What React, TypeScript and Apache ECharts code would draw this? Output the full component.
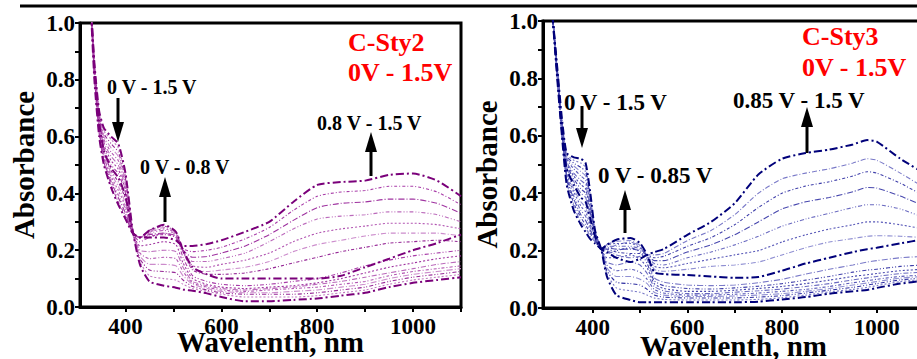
import React, { useEffect, useRef } from "react";
import * as echarts from "echarts";

// ---------- C-Sty2 (left panel) ----------
const WL2 = [325, 335, 345, 355, 370, 385, 400, 415, 430, 450, 480, 505, 520, 540, 570, 600, 650, 700, 750, 800, 850, 900, 950, 1000, 1050, 1100];
const c2_00 = [1.15, 0.86, 0.69, 0.63, 0.6, 0.575, 0.47, 0.27, 0.15, 0.09, 0.075, 0.068, 0.062, 0.057, 0.048, 0.035, 0.02, 0.02, 0.025, 0.03, 0.04, 0.05, 0.07, 0.085, 0.095, 0.105];
const c2_01 = [1.15, 0.86, 0.685, 0.62, 0.59, 0.56, 0.46, 0.268, 0.16, 0.11, 0.1, 0.095, 0.08, 0.065, 0.055, 0.045, 0.035, 0.035, 0.035, 0.04, 0.05, 0.06, 0.08, 0.095, 0.105, 0.115];
const c2_02 = [1.15, 0.855, 0.68, 0.61, 0.575, 0.545, 0.45, 0.267, 0.17, 0.13, 0.125, 0.12, 0.095, 0.072, 0.06, 0.05, 0.045, 0.045, 0.045, 0.05, 0.06, 0.07, 0.09, 0.105, 0.115, 0.125];
const c2_03 = [1.15, 0.855, 0.675, 0.6, 0.56, 0.53, 0.44, 0.266, 0.18, 0.15, 0.15, 0.145, 0.11, 0.08, 0.065, 0.055, 0.05, 0.05, 0.055, 0.06, 0.07, 0.08, 0.1, 0.115, 0.125, 0.135];
const c2_04 = [1.15, 0.85, 0.67, 0.59, 0.545, 0.515, 0.43, 0.265, 0.19, 0.17, 0.175, 0.17, 0.125, 0.085, 0.07, 0.06, 0.055, 0.06, 0.065, 0.07, 0.08, 0.09, 0.11, 0.125, 0.135, 0.145];
const c2_05 = [1.15, 0.85, 0.665, 0.58, 0.53, 0.5, 0.42, 0.264, 0.2, 0.195, 0.2, 0.195, 0.14, 0.09, 0.075, 0.065, 0.06, 0.065, 0.07, 0.08, 0.09, 0.105, 0.12, 0.135, 0.15, 0.16];
const c2_06 = [1.15, 0.845, 0.66, 0.57, 0.515, 0.485, 0.41, 0.263, 0.215, 0.22, 0.23, 0.22, 0.155, 0.1, 0.08, 0.07, 0.065, 0.07, 0.075, 0.085, 0.1, 0.12, 0.14, 0.155, 0.17, 0.18];
const c2_07 = [1.15, 0.84, 0.655, 0.56, 0.5, 0.47, 0.4, 0.262, 0.23, 0.245, 0.26, 0.245, 0.175, 0.11, 0.09, 0.08, 0.075, 0.08, 0.09, 0.1, 0.12, 0.145, 0.165, 0.18, 0.19, 0.2];
const c2_08 = [1.15, 0.84, 0.65, 0.55, 0.49, 0.455, 0.39, 0.261, 0.245, 0.27, 0.29, 0.265, 0.2, 0.14, 0.115, 0.1, 0.1, 0.1, 0.1, 0.1, 0.11, 0.14, 0.17, 0.2, 0.225, 0.255];
const c2_09 = [1.15, 0.835, 0.645, 0.545, 0.48, 0.44, 0.38, 0.26, 0.245, 0.27, 0.285, 0.265, 0.195, 0.13, 0.115, 0.115, 0.12, 0.135, 0.155, 0.175, 0.195, 0.21, 0.225, 0.23, 0.235, 0.23];
const c2_10 = [1.15, 0.83, 0.64, 0.54, 0.47, 0.425, 0.365, 0.26, 0.245, 0.265, 0.28, 0.26, 0.195, 0.135, 0.125, 0.13, 0.14, 0.16, 0.195, 0.22, 0.235, 0.25, 0.26, 0.26, 0.26, 0.25];
const c2_11 = [1.15, 0.825, 0.635, 0.53, 0.46, 0.41, 0.355, 0.26, 0.245, 0.265, 0.275, 0.26, 0.195, 0.145, 0.14, 0.15, 0.165, 0.19, 0.23, 0.26, 0.275, 0.285, 0.295, 0.295, 0.29, 0.275];
const c2_12 = [1.15, 0.82, 0.63, 0.525, 0.45, 0.395, 0.345, 0.26, 0.245, 0.26, 0.27, 0.255, 0.195, 0.16, 0.16, 0.17, 0.19, 0.23, 0.275, 0.31, 0.32, 0.325, 0.335, 0.335, 0.325, 0.3];
const c2_13 = [1.15, 0.815, 0.62, 0.515, 0.44, 0.385, 0.33, 0.26, 0.245, 0.255, 0.26, 0.25, 0.2, 0.175, 0.178, 0.19, 0.215, 0.255, 0.305, 0.35, 0.365, 0.37, 0.38, 0.38, 0.365, 0.33];
const c2_14 = [1.15, 0.81, 0.61, 0.51, 0.43, 0.37, 0.32, 0.26, 0.245, 0.25, 0.255, 0.245, 0.205, 0.195, 0.2, 0.21, 0.24, 0.28, 0.34, 0.39, 0.405, 0.41, 0.425, 0.425, 0.405, 0.36];
const c2_15 = [1.15, 0.8, 0.6, 0.5, 0.42, 0.36, 0.31, 0.26, 0.245, 0.245, 0.245, 0.235, 0.215, 0.215, 0.222, 0.235, 0.265, 0.3, 0.37, 0.43, 0.44, 0.445, 0.465, 0.47, 0.445, 0.39];
const sty2Curves = [c2_00, c2_01, c2_02, c2_03, c2_04, c2_05, c2_06, c2_07, c2_08, c2_09, c2_10, c2_11, c2_12, c2_13, c2_14, c2_15];

// ---------- C-Sty3 (right panel) ----------
const WL3 = [315, 325, 335, 345, 360, 375, 385, 395, 405, 418, 430, 450, 480, 500, 515, 530, 550, 600, 650, 700, 750, 800, 850, 900, 950, 980, 1000, 1050, 1100];
const c3_00 = [1.02, 0.84, 0.66, 0.54, 0.525, 0.52, 0.505, 0.4, 0.27, 0.205, 0.11, 0.045, 0.028, 0.02, 0.02, 0.02, 0.02, 0.02, 0.02, 0.02, 0.022, 0.03, 0.038, 0.05, 0.058, 0.063, 0.07, 0.085, 0.095];
const c3_01 = [1.02, 0.84, 0.655, 0.535, 0.515, 0.505, 0.49, 0.39, 0.268, 0.205, 0.12, 0.07, 0.06, 0.055, 0.045, 0.035, 0.03, 0.028, 0.028, 0.028, 0.03, 0.036, 0.045, 0.056, 0.065, 0.072, 0.078, 0.092, 0.1];
const c3_02 = [1.02, 0.835, 0.65, 0.53, 0.505, 0.49, 0.475, 0.38, 0.266, 0.205, 0.13, 0.09, 0.085, 0.08, 0.065, 0.045, 0.038, 0.035, 0.035, 0.035, 0.038, 0.043, 0.052, 0.062, 0.072, 0.08, 0.085, 0.098, 0.105];
const c3_03 = [1.02, 0.835, 0.645, 0.525, 0.495, 0.475, 0.46, 0.37, 0.264, 0.205, 0.14, 0.11, 0.11, 0.1, 0.085, 0.055, 0.045, 0.04, 0.04, 0.042, 0.045, 0.05, 0.058, 0.068, 0.08, 0.087, 0.092, 0.104, 0.11];
const c3_04 = [1.02, 0.83, 0.64, 0.52, 0.485, 0.46, 0.445, 0.36, 0.262, 0.205, 0.15, 0.13, 0.135, 0.125, 0.1, 0.065, 0.052, 0.045, 0.045, 0.048, 0.052, 0.058, 0.065, 0.075, 0.088, 0.095, 0.1, 0.11, 0.115];
const c3_05 = [1.02, 0.83, 0.635, 0.51, 0.47, 0.445, 0.43, 0.35, 0.26, 0.205, 0.16, 0.15, 0.16, 0.15, 0.12, 0.075, 0.06, 0.05, 0.05, 0.055, 0.06, 0.066, 0.075, 0.085, 0.098, 0.105, 0.11, 0.12, 0.125];
const c3_06 = [1.02, 0.825, 0.63, 0.505, 0.46, 0.43, 0.415, 0.34, 0.258, 0.205, 0.175, 0.175, 0.185, 0.17, 0.14, 0.085, 0.068, 0.058, 0.058, 0.062, 0.068, 0.075, 0.085, 0.097, 0.11, 0.116, 0.12, 0.13, 0.135];
const c3_07 = [1.02, 0.825, 0.625, 0.5, 0.45, 0.415, 0.4, 0.33, 0.256, 0.205, 0.19, 0.2, 0.21, 0.195, 0.155, 0.095, 0.078, 0.068, 0.066, 0.07, 0.076, 0.085, 0.097, 0.11, 0.125, 0.132, 0.135, 0.145, 0.15];
const c3_08 = [1.02, 0.82, 0.62, 0.49, 0.44, 0.4, 0.385, 0.32, 0.254, 0.205, 0.205, 0.22, 0.23, 0.215, 0.17, 0.105, 0.09, 0.08, 0.078, 0.08, 0.088, 0.1, 0.118, 0.135, 0.15, 0.16, 0.165, 0.175, 0.18];
const c3_09 = [1.02, 0.82, 0.62, 0.485, 0.43, 0.385, 0.37, 0.31, 0.25, 0.205, 0.22, 0.238, 0.244, 0.226, 0.185, 0.125, 0.118, 0.115, 0.11, 0.105, 0.108, 0.13, 0.155, 0.175, 0.195, 0.205, 0.21, 0.225, 0.24];
const c3_10 = [1.02, 0.815, 0.615, 0.48, 0.415, 0.37, 0.35, 0.3, 0.248, 0.205, 0.222, 0.232, 0.235, 0.218, 0.182, 0.135, 0.128, 0.135, 0.145, 0.15, 0.16, 0.185, 0.21, 0.23, 0.242, 0.25, 0.252, 0.25, 0.245];
const c3_11 = [1.02, 0.815, 0.615, 0.47, 0.405, 0.355, 0.335, 0.29, 0.245, 0.205, 0.22, 0.225, 0.225, 0.21, 0.18, 0.145, 0.14, 0.155, 0.17, 0.185, 0.2, 0.23, 0.255, 0.275, 0.29, 0.3, 0.3, 0.29, 0.275];
const c3_12 = [1.02, 0.81, 0.61, 0.465, 0.39, 0.34, 0.32, 0.28, 0.242, 0.205, 0.215, 0.215, 0.215, 0.205, 0.18, 0.155, 0.15, 0.175, 0.195, 0.22, 0.25, 0.285, 0.31, 0.33, 0.35, 0.36, 0.36, 0.345, 0.315];
const c3_13 = [1.02, 0.81, 0.61, 0.455, 0.38, 0.325, 0.305, 0.27, 0.238, 0.205, 0.21, 0.205, 0.205, 0.2, 0.185, 0.165, 0.165, 0.195, 0.22, 0.255, 0.3, 0.345, 0.37, 0.385, 0.405, 0.42, 0.418, 0.39, 0.355];
const c3_14 = [1.02, 0.805, 0.605, 0.45, 0.365, 0.315, 0.29, 0.26, 0.234, 0.205, 0.205, 0.195, 0.19, 0.19, 0.185, 0.175, 0.18, 0.215, 0.245, 0.29, 0.35, 0.4, 0.425, 0.44, 0.46, 0.475, 0.47, 0.435, 0.39];
const c3_15 = [1.02, 0.805, 0.605, 0.44, 0.355, 0.3, 0.28, 0.25, 0.23, 0.205, 0.2, 0.185, 0.175, 0.18, 0.185, 0.185, 0.19, 0.235, 0.27, 0.325, 0.4, 0.45, 0.47, 0.485, 0.505, 0.52, 0.515, 0.47, 0.42];
const c3_16 = [1.02, 0.8, 0.6, 0.43, 0.34, 0.29, 0.265, 0.24, 0.225, 0.205, 0.195, 0.175, 0.16, 0.172, 0.185, 0.195, 0.205, 0.255, 0.3, 0.365, 0.465, 0.52, 0.54, 0.552, 0.57, 0.585, 0.58, 0.52, 0.47];
const sty3Curves = [c3_00, c3_01, c3_02, c3_03, c3_04, c3_05, c3_06, c3_07, c3_08, c3_09, c3_10, c3_11, c3_12, c3_13, c3_14, c3_15, c3_16];

const X_TICKS = [400, 500, 600, 700, 800, 900, 1000, 1100];
const X_LABELS = [400, 600, 800, 1000];

const FONT = "Liberation Serif";

const PURPLES = ["#a83ca8", "#c27ac2", "#962896", "#cc8ccc", "#b256b2", "#bb6abb", "#9f33a0"];
const BLUES = ["#4040aa", "#7a7ac8", "#2d2da0", "#8f8fd2", "#5858b8", "#6a6ac0", "#4848ae"];
const DASHES = [
  [5, 2, 1, 2],
  [2, 2],
  [4, 2, 1, 2, 1, 2],
  [6, 2, 1, 2],
  [3, 2, 1, 2],
];

function buildSeries(wl: number[], curves: number[][], idx: number, dark: string, shades: string[], thick: number[]) {
  return curves.map((vals, k) => {
    const isThick = thick.includes(k);
    return {
      type: "line",
      xAxisIndex: idx,
      yAxisIndex: idx,
      data: wl.map((w, i) => [w, vals[i]]),
      symbol: "none",
      smooth: 0.2,
      silent: true,
      clip: true,
      lineStyle: {
        color: isThick ? dark : shades[k % shades.length],
        width: isThick ? 2 : 1.1,
        type: isThick ? [8, 3, 2, 3] : DASHES[k % DASHES.length],
      },
      z: isThick ? 3 : 2,
    };
  });
}

function xAxisFor(idx: number, min: number, gap: number) {
  return {
    type: "value",
    gridIndex: idx,
    min,
    max: 1100,
    name: "Wavelenth, nm",
    nameLocation: "middle",
    nameGap: gap,
    nameMoveOverlap: false,
    nameTextStyle: { fontSize: 29, lineHeight: 22, fontWeight: "bold", fontFamily: FONT, color: "#000" },
    axisLine: { show: true, lineStyle: { color: "#000", width: 3 } },
    axisTick: { show: true, inside: false, length: 5, customValues: X_TICKS, lineStyle: { color: "#000", width: 2 } },
    axisLabel: {
      show: true,
      customValues: X_LABELS,
      margin: 11,
      lineHeight: 16,
      fontSize: 23,
      fontWeight: "bold",
      fontFamily: FONT,
      color: "#000",
      formatter: (v: number) => String(v),
    },
    splitLine: { show: false },
  };
}

function yAxisFor(idx: number, gap: number, pad: number[]) {
  return {
    type: "value",
    gridIndex: idx,
    min: 0,
    max: 1,
    interval: 0.2,
    name: "Absorbance",
    nameLocation: "middle",
    nameGap: gap,
    nameRotate: 90,
    nameMoveOverlap: false,
    nameTextStyle: { fontSize: 29, fontWeight: "bold", fontFamily: FONT, color: "#000", padding: pad },
    axisLine: { show: true, lineStyle: { color: "#000", width: 3 } },
    axisTick: { show: true, inside: false, length: 5, lineStyle: { color: "#000", width: 2 } },
    minorTick: { show: true, splitNumber: 2, length: 5, lineStyle: { color: "#000", width: 2 } },
    axisLabel: {
      margin: 5,
      fontSize: 23,
      fontWeight: "bold",
      fontFamily: FONT,
      color: "#000",
      formatter: (v: number) => v.toFixed(1),
    },
    splitLine: { show: false },
    minorSplitLine: { show: false },
  };
}

function arrow(x: number, tail: number, tip: number) {
  const dir = tip > tail ? 1 : -1;
  const base = tip - dir * 20;
  return [
    { type: "line", shape: { x1: x, y1: tail, x2: x, y2: base }, style: { stroke: "#000", lineWidth: 3 } },
    { type: "polygon", shape: { points: [[x - 6, base], [x + 6, base], [x, tip]] }, style: { fill: "#000" } },
  ];
}

function label(text: string, x: number, y: number, size: number, color: string) {
  return {
    type: "text",
    x,
    y,
    style: { text, fill: color, fontSize: size, fontWeight: "bold", fontFamily: FONT, align: "left", verticalAlign: "middle" },
  };
}

export default function App() {
  const ref = useRef<HTMLDivElement>(null);
  useEffect(() => {
    if (!ref.current) return;
    const chart = echarts.init(ref.current, undefined, { renderer: "svg" });
    const option = {
      animation: false,
      backgroundColor: "#fff",
      grid: [
        { left: 80, top: 23, width: 381, height: 284, show: true, borderColor: "#000", borderWidth: 3, backgroundColor: "transparent", containLabel: false, outerBoundsMode: "none" },
        { left: 543, top: 21, width: 381, height: 287, show: true, borderColor: "#000", borderWidth: 3, backgroundColor: "transparent", containLabel: false, outerBoundsMode: "none" },
      ],
      xAxis: [xAxisFor(0, 305, 24), xAxisFor(1, 295, 27)],
      yAxis: [yAxisFor(0, 42, [0, 0, 0, 0]), yAxisFor(1, 42, [0, 20, 0, 0])],
      series: [
        ...buildSeries(WL2, sty2Curves, 0, "#7a007a", PURPLES, [0, 8, 15]),
        ...buildSeries(WL3, sty3Curves, 1, "#00007a", BLUES, [0, 9, 16]),
      ],
      graphic: [
        { type: "line", shape: { x1: 20, y1: 6, x2: 917, y2: 6 }, style: { stroke: "#000", lineWidth: 3 } },
        label("C-Sty2", 348, 42, 26, "#ff0000"),
        label("0V - 1.5V", 348, 72, 26, "#ff0000"),
        label("0 V - 1.5 V", 107, 87, 20, "#000"),
        label("0 V - 0.8 V", 140, 167, 20, "#000"),
        label("0.8 V - 1.5 V", 317, 123, 20, "#000"),
        ...arrow(118, 98, 142),
        ...arrow(165, 222, 177),
        ...arrow(371, 176, 132),
        label("C-Sty3", 802, 36, 26, "#ff0000"),
        label("0V - 1.5V", 802, 67, 26, "#ff0000"),
        label("0 V - 1.5 V", 564, 102, 23, "#000"),
        label("0 V - 0.85 V", 598, 175, 23, "#000"),
        label("0.85 V - 1.5 V", 733, 100, 23, "#000"),
        ...arrow(582, 106, 148),
        ...arrow(625, 233, 190),
        ...arrow(807, 153, 107),
      ],
    };
    chart.setOption(option as any);
    return () => chart.dispose();
  }, []);
  return <div ref={ref} style={{ position: "absolute", left: 0, top: 0, width: 917, height: 359 }} />;
}
